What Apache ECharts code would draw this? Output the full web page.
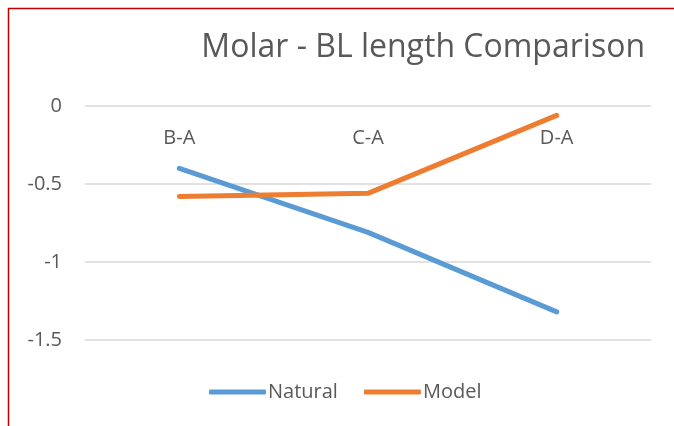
<!DOCTYPE html>
<html>
<head>
<meta charset="utf-8">
<script src="https://cdn.jsdelivr.net/npm/echarts@6/dist/echarts.min.js"></script>
<style>
  html, body { margin: 0; padding: 0; background: #fff; }
  #chart { width: 674px; height: 426px; }
</style>
</head>
<body>
<div id="chart"></div>
<script>
  const categories = ['B-A', 'C-A', 'D-A']
  const natural = [-0.4, -0.81, -1.32]
  const model = [-0.58, -0.56, -0.06]
  const yTicks = { min: -1.5, max: 0, interval: 0.5 }

  const textColor = '#595959'
  const font = 'Open Sans'

  const chart = echarts.init(document.getElementById('chart'))
  chart.setOption({
    animation: false,
    backgroundColor: '#fff',
    textStyle: { fontFamily: font },
    title: {
      text: 'Molar - BL length Comparison',
      right: 24,
      top: 27,
      textStyle: { fontFamily: font, fontSize: 32, fontWeight: 'normal', color: textColor },
    },
    graphic: [
      // red frame: top and left edges
      { type: 'line', shape: { x1: 8, y1: 8.5, x2: 674, y2: 8.5 }, style: { stroke: '#c00000', lineWidth: 1.5 } },
      { type: 'line', shape: { x1: 8.5, y1: 8, x2: 8.5, y2: 426 }, style: { stroke: '#c00000', lineWidth: 1.5 } },
    ],
    legend: {
      left: 204,
      top: 377,
      itemWidth: 57,
      itemHeight: 5,
      itemGap: 26,
      icon: 'roundRect',
      textStyle: { fontFamily: font, fontSize: 20, color: textColor, padding: [0, 0, 0, -3] },
      data: ['Natural', 'Model'],
    },
    grid: { left: 85, right: 23, top: 106, bottom: 86 },
    xAxis: {
      type: 'category',
      position: 'top',
      data: categories,
      axisLine: { show: false },
      axisTick: { show: false },
      axisLabel: { inside: true, margin: 22, fontSize: 20, color: textColor, fontFamily: font },
    },
    yAxis: {
      type: 'value',
      min: yTicks.min,
      max: yTicks.max,
      interval: yTicks.interval,
      axisLine: { show: false },
      axisTick: { show: false },
      axisLabel: { margin: 23, fontSize: 20, color: textColor, fontFamily: font },
      splitLine: { lineStyle: { color: '#d9d9d9', width: 1.5 } },
    },
    series: [
      {
        name: 'Natural',
        type: 'line',
        data: natural,
        showSymbol: false,
        symbol: 'none',
        itemStyle: { color: '#5b9bd5' },
        lineStyle: { color: '#5b9bd5', width: 5, cap: 'round', join: 'round' },
      },
      {
        name: 'Model',
        type: 'line',
        data: model,
        showSymbol: false,
        symbol: 'none',
        itemStyle: { color: '#ed7d31' },
        lineStyle: { color: '#ed7d31', width: 5, cap: 'round', join: 'round' },
      },
    ],
  })
</script>
</body>
</html>
